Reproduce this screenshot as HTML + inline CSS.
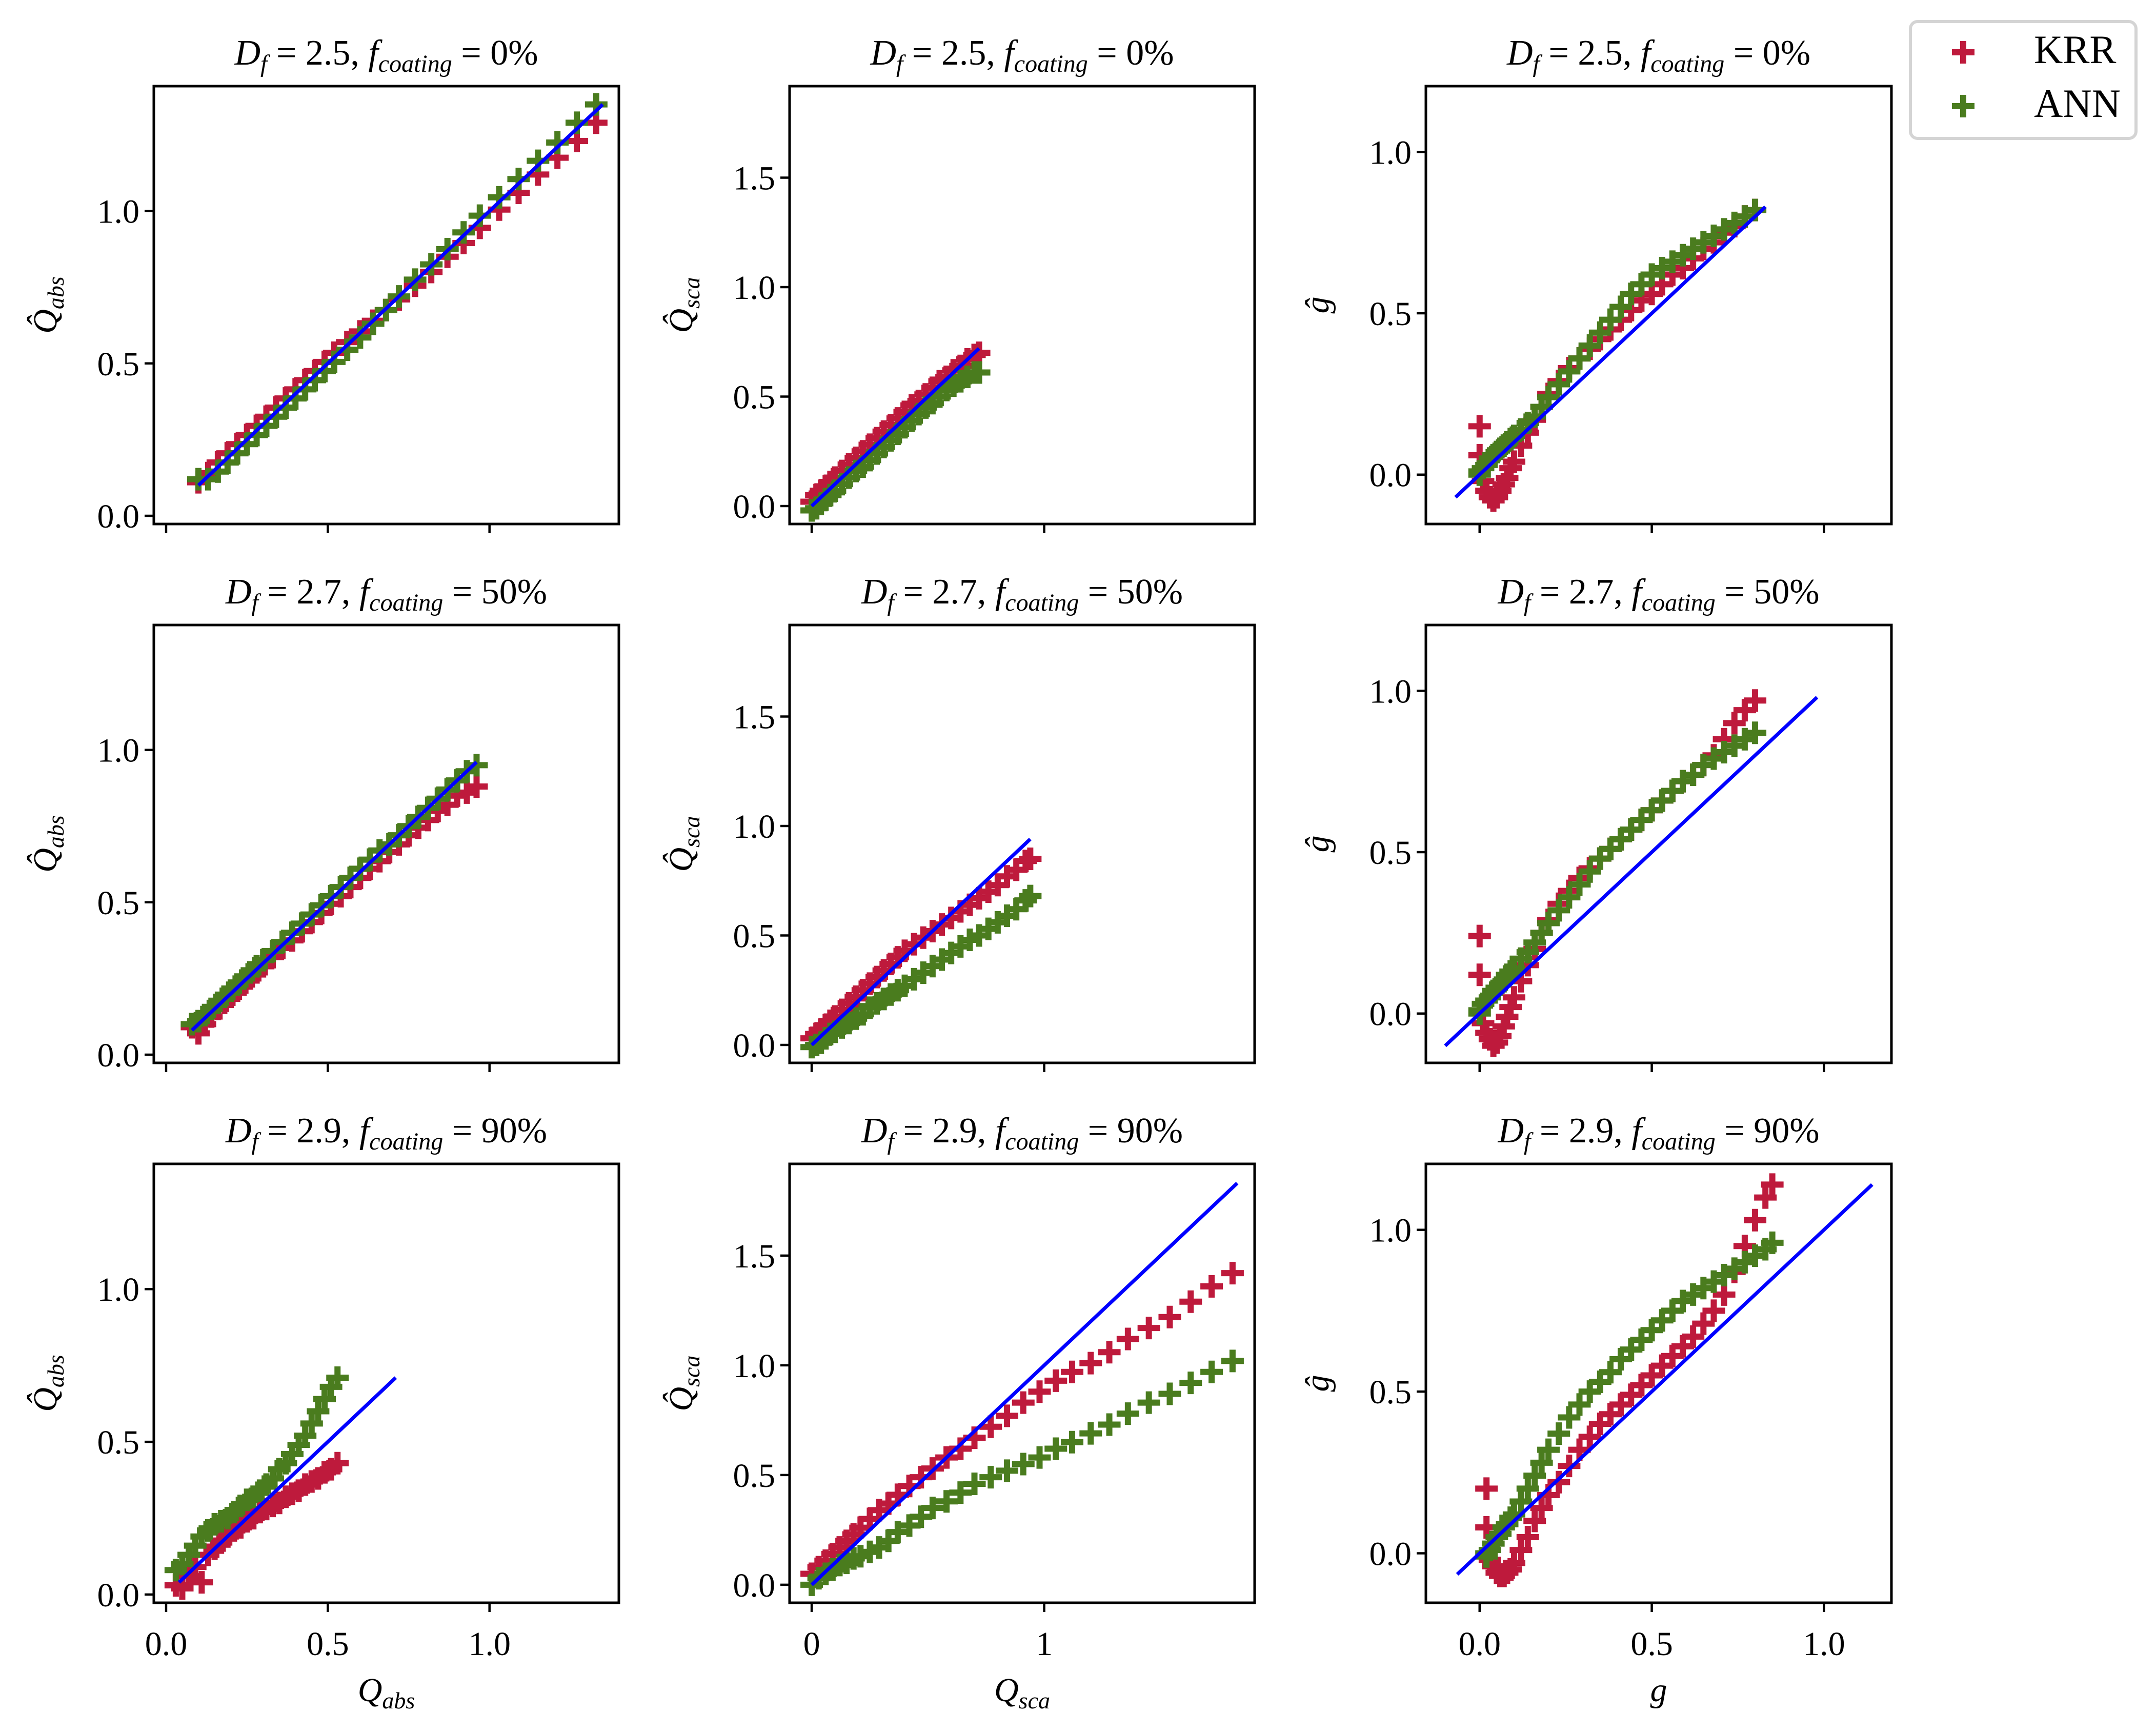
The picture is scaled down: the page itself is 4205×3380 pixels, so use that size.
<!DOCTYPE html>
<html><head><meta charset="utf-8"><style>
html,body{margin:0;padding:0;background:#fff;}
svg{display:block;font-family:"Liberation Serif",serif;}
</style></head><body>
<svg id="fig" width="4205" height="3380" viewBox="0 0 4205 3380" xmlns="http://www.w3.org/2000/svg"></svg>
<script>
// ---- data ----
const rowDf = [2.5, 2.7, 2.9];
const rowCoat = [0, 50, 90];
// column 1 : Q_abs
const x11 = [0.10,0.13,0.16,0.19,0.22,0.25,0.28,0.31,0.34,0.37,0.40,0.43,0.46,0.49,0.52,0.56,0.60,0.64,0.68,0.72,0.77,0.82,0.87,0.92,0.97,1.03,1.09,1.15,1.21,1.27,1.33];
const krr11 = [0.11,0.14,0.175,0.205,0.235,0.265,0.295,0.325,0.355,0.385,0.415,0.445,0.475,0.505,0.535,0.57,0.605,0.64,0.675,0.71,0.755,0.80,0.85,0.895,0.945,1.005,1.06,1.12,1.175,1.23,1.29];
const ann11 = [0.12,0.12,0.145,0.175,0.205,0.235,0.265,0.295,0.325,0.355,0.385,0.415,0.445,0.475,0.505,0.545,0.585,0.63,0.675,0.72,0.775,0.825,0.875,0.93,0.985,1.045,1.105,1.165,1.225,1.29,1.35];
const x21 = [0.08,0.10,0.12,0.14,0.16,0.18,0.20,0.22,0.24,0.26,0.28,0.30,0.33,0.36,0.39,0.42,0.45,0.48,0.51,0.54,0.57,0.60,0.63,0.66,0.69,0.72,0.75,0.78,0.81,0.84,0.87,0.90,0.93,0.96];
const krr21 = [0.09,0.07,0.10,0.125,0.15,0.17,0.19,0.21,0.23,0.25,0.27,0.29,0.32,0.35,0.375,0.405,0.435,0.465,0.495,0.52,0.55,0.58,0.61,0.635,0.665,0.69,0.72,0.745,0.77,0.80,0.82,0.85,0.86,0.88];
const ann21 = [0.10,0.11,0.13,0.15,0.17,0.19,0.21,0.23,0.25,0.27,0.29,0.31,0.34,0.37,0.40,0.43,0.46,0.49,0.52,0.55,0.58,0.61,0.64,0.67,0.69,0.72,0.75,0.78,0.81,0.84,0.87,0.90,0.93,0.95];
const x31 = [0.03,0.05,0.07,0.09,0.11,0.13,0.15,0.17,0.19,0.21,0.23,0.25,0.27,0.29,0.31,0.33,0.35,0.37,0.39,0.41,0.43,0.45,0.47,0.49,0.51,0.53];
const krr31 = [0.03,0.02,0.06,0.09,0.04,0.13,0.15,0.17,0.19,0.21,0.22,0.24,0.25,0.27,0.28,0.29,0.30,0.32,0.33,0.34,0.36,0.37,0.38,0.40,0.41,0.43];
const ann31 = [0.08,0.10,0.13,0.16,0.19,0.21,0.23,0.24,0.25,0.27,0.29,0.31,0.32,0.34,0.36,0.38,0.41,0.43,0.46,0.49,0.52,0.56,0.60,0.64,0.68,0.71];
// column 2 : Q_sca
const x12 = [0,0.02,0.04,0.06,0.08,0.10,0.13,0.16,0.19,0.22,0.25,0.28,0.31,0.34,0.37,0.40,0.43,0.46,0.49,0.52,0.55,0.58,0.61,0.64,0.67,0.70,0.72];
const krr12 = [0.02,0.05,0.07,0.09,0.11,0.13,0.16,0.19,0.22,0.25,0.28,0.31,0.34,0.37,0.40,0.43,0.46,0.48,0.51,0.54,0.57,0.59,0.62,0.64,0.67,0.69,0.70];
const ann12 = [-0.02,-0.01,0.01,0.03,0.05,0.07,0.10,0.13,0.16,0.18,0.21,0.24,0.27,0.30,0.33,0.36,0.39,0.42,0.45,0.47,0.50,0.53,0.55,0.57,0.59,0.61,0.61];
const x22 = [0,0.02,0.04,0.06,0.08,0.10,0.13,0.16,0.19,0.22,0.25,0.28,0.31,0.34,0.37,0.40,0.44,0.48,0.52,0.56,0.60,0.64,0.68,0.72,0.76,0.80,0.84,0.88,0.92,0.94];
const krr22 = [0.03,0.05,0.07,0.09,0.11,0.13,0.16,0.19,0.22,0.25,0.28,0.31,0.34,0.37,0.40,0.43,0.46,0.49,0.52,0.55,0.58,0.61,0.64,0.67,0.70,0.73,0.77,0.80,0.84,0.85];
const ann22 = [-0.01,0.0,0.01,0.03,0.05,0.06,0.08,0.10,0.12,0.14,0.17,0.19,0.21,0.23,0.25,0.27,0.30,0.33,0.36,0.39,0.42,0.45,0.48,0.50,0.53,0.56,0.59,0.62,0.66,0.68];
const x32 = [0,0.03,0.06,0.09,0.12,0.15,0.18,0.21,0.25,0.29,0.33,0.37,0.42,0.47,0.52,0.58,0.64,0.70,0.77,0.84,0.91,0.98,1.05,1.12,1.20,1.28,1.36,1.45,1.54,1.63,1.72,1.81];
const krr32 = [0.05,0.08,0.11,0.14,0.17,0.20,0.23,0.26,0.30,0.34,0.37,0.41,0.45,0.49,0.53,0.58,0.62,0.67,0.72,0.77,0.83,0.88,0.93,0.97,1.01,1.06,1.12,1.17,1.22,1.29,1.36,1.42];
const ann32 = [0.0,0.03,0.05,0.07,0.09,0.10,0.12,0.13,0.15,0.17,0.20,0.24,0.27,0.31,0.35,0.38,0.42,0.46,0.49,0.52,0.55,0.58,0.62,0.65,0.69,0.73,0.78,0.83,0.87,0.92,0.97,1.02];
// column 3 : g
const x13 = [0.0,0.0,0.01,0.02,0.03,0.04,0.05,0.06,0.07,0.08,0.09,0.10,0.12,0.14,0.16,0.18,0.20,0.23,0.26,0.29,0.32,0.35,0.38,0.41,0.44,0.47,0.50,0.53,0.56,0.59,0.62,0.65,0.68,0.71,0.74,0.77,0.80];
const krr13 = [0.15,0.06,-0.02,-0.05,-0.07,-0.08,-0.07,-0.05,-0.03,-0.01,0.02,0.04,0.09,0.13,0.17,0.21,0.25,0.29,0.33,0.36,0.39,0.42,0.45,0.48,0.51,0.54,0.56,0.59,0.62,0.64,0.67,0.70,0.72,0.75,0.77,0.80,0.82];
const ann13 = [0.0,0.01,0.02,0.03,0.05,0.06,0.07,0.08,0.09,0.10,0.11,0.12,0.14,0.16,0.18,0.21,0.24,0.28,0.32,0.36,0.40,0.44,0.48,0.52,0.56,0.59,0.62,0.64,0.66,0.68,0.70,0.72,0.74,0.76,0.78,0.80,0.82];
const x23 = [0.0,0.0,0.01,0.02,0.03,0.04,0.05,0.06,0.07,0.08,0.09,0.10,0.12,0.14,0.16,0.18,0.20,0.23,0.26,0.29,0.32,0.35,0.38,0.41,0.44,0.47,0.50,0.53,0.56,0.59,0.62,0.65,0.68,0.71,0.74,0.77,0.80];
const krr23 = [0.24,0.12,-0.03,-0.06,-0.08,-0.10,-0.09,-0.07,-0.04,-0.01,0.02,0.05,0.10,0.15,0.20,0.25,0.29,0.34,0.38,0.42,0.45,0.48,0.51,0.54,0.57,0.60,0.63,0.66,0.69,0.72,0.74,0.77,0.80,0.85,0.90,0.94,0.97];
const ann23 = [0.0,0.01,0.03,0.04,0.05,0.07,0.08,0.09,0.10,0.12,0.13,0.14,0.17,0.19,0.22,0.25,0.28,0.32,0.36,0.40,0.44,0.48,0.51,0.54,0.57,0.60,0.63,0.66,0.69,0.72,0.74,0.77,0.79,0.81,0.83,0.85,0.87];
const x33 = [0.02,0.02,0.03,0.04,0.05,0.06,0.07,0.08,0.09,0.10,0.12,0.14,0.16,0.18,0.20,0.23,0.26,0.29,0.32,0.35,0.38,0.41,0.44,0.47,0.50,0.53,0.56,0.59,0.62,0.65,0.68,0.71,0.74,0.77,0.80,0.83,0.85];
const krr33 = [0.20,0.08,-0.02,-0.04,-0.06,-0.07,-0.07,-0.06,-0.05,-0.03,0.01,0.05,0.10,0.14,0.18,0.22,0.27,0.32,0.36,0.40,0.43,0.46,0.49,0.52,0.55,0.58,0.61,0.64,0.67,0.71,0.75,0.80,0.87,0.95,1.03,1.10,1.14];
const ann33 = [0.0,-0.01,0.01,0.03,0.05,0.06,0.08,0.09,0.11,0.12,0.16,0.20,0.24,0.28,0.32,0.37,0.42,0.46,0.50,0.53,0.56,0.60,0.63,0.66,0.69,0.72,0.75,0.78,0.80,0.82,0.84,0.86,0.88,0.90,0.92,0.94,0.96];
// y=x reference line ranges [row][col]
const lineLo = [[0.10,0.0,-0.07],[0.08,0.0,-0.10],[0.04,0.0,-0.065]];
const lineHi = [[1.35,0.72,0.83],[0.96,0.94,0.98],[0.71,1.83,1.14]];
// axis ticks per column
const xTicks = [[0.0,0.5,1.0],[0,1],[0.0,0.5,1.0]];
const xTickLabels = [["0.0","0.5","1.0"],["0","1"],["0.0","0.5","1.0"]];
const yTicks = [[0.0,0.5,1.0],[0.0,0.5,1.0,1.5],[0.0,0.5,1.0]];
const yTickLabels = [["0.0","0.5","1.0"],["0.0","0.5","1.0","1.5"],["0.0","0.5","1.0"]];

// ---- layout ----
const NS = "http://www.w3.org/2000/svg";
const svg = document.getElementById('fig');
const colL = [300,1540,2781], colR = [1207,2447,3689];
const rowT = [168,1219,2270], rowB = [1022,2073,3126];
const xLim = [[-0.038,1.40],[-0.095,1.905],[-0.156,1.196]];
const yLim = [[-0.027,1.41],[-0.082,1.918],[-0.153,1.204]];
const KRR = "#be1a3c", ANN = "#4a7c1e";
const xs = [[x11,x12,x13],[x21,x22,x23],[x31,x32,x33]];
const ks = [[krr11,krr12,krr13],[krr21,krr22,krr23],[krr31,krr32,krr33]];
const as = [[ann11,ann12,ann13],[ann21,ann22,ann23],[ann31,ann32,ann33]];

function mk(tag, attrs, parent){const e=document.createElementNS(NS,tag);for(const k in attrs)e.setAttribute(k,attrs[k]);(parent||svg).appendChild(e);return e;}
function plusPath(cx,cy){const h=22;return `M${cx-h},${cy}H${cx+h}M${cx},${cy-h}V${cy+h}`;}

for(let r=0;r<3;r++){for(let c=0;c<3;c++){
  const L=colL[c],R=colR[c],T=rowT[r],B=rowB[r];
  const sx=v=>L+(v-xLim[c][0])/(xLim[c][1]-xLim[c][0])*(R-L);
  const sy=v=>B-(v-yLim[c][0])/(yLim[c][1]-yLim[c][0])*(B-T);
  const g=mk('g',{});
  
  
  const clipId='clip'+r+c;
  const cp=mk('clipPath',{id:clipId},g);mk('rect',{x:L,y:T,width:R-L,height:B-T},cp);
  const pg=mk('g',{'clip-path':`url(#${clipId})`},g);
  [[ks[r][c],KRR,'krr'],[as[r][c],ANN,'ann']].forEach(([ys,col,nm])=>{
    let d='';const X=xs[r][c];
    for(let i=0;i<X.length;i++)d+=plusPath(sx(X[i]),sy(ys[i]));
    const p=mk('path',{d:d,stroke:col,'stroke-width':12,fill:'none'},pg);
    
    
  });
  const ln=mk('line',{x1:sx(lineLo[r][c]),y1:sy(lineLo[r][c]),x2:sx(lineHi[r][c]),y2:sy(lineHi[r][c]),stroke:'#0000ff','stroke-width':7},pg);
  
  
  const fr=mk('rect',{x:L,y:T,width:R-L,height:B-T,fill:'none',stroke:'#000','stroke-width':5},g);
  
  
  xTicks[c].forEach((v,i)=>{
    mk('line',{x1:sx(v),y1:B,x2:sx(v),y2:B+18,stroke:'#000','stroke-width':4.5},g);
    if(r===2){const t=mk('text',{x:sx(v),y:B+102,'font-size':66,'text-anchor':'middle'},g);t.textContent=xTickLabels[c][i];
      
      }
  });
  yTicks[c].forEach((v,i)=>{
    mk('line',{x1:L-18,y1:sy(v),x2:L,y2:sy(v),stroke:'#000','stroke-width':4.5},g);
    const t=mk('text',{x:L-28,y:sy(v)+23,'font-size':66,'text-anchor':'end'},g);t.textContent=yTickLabels[c][i];
    
    
  });
  const tt=mk('text',{x:(L+R)/2,y:T-42,'font-size':70,'text-anchor':'middle'},g);
  tt.innerHTML=`<tspan font-style="italic">D</tspan><tspan font-style="italic" font-size="48" dy="14">f</tspan><tspan dy="-14"> = ${rowDf[r]}, </tspan><tspan font-style="italic">f</tspan><tspan font-style="italic" font-size="48" dy="14">coating</tspan><tspan dy="-14"> = ${rowCoat[r]}%</tspan>`;
  
  
  const yl=['Q̂','Q̂','ĝ'][c], ys2=['abs','sca',''][c];
  const yt=mk('text',{x:0,y:0,'font-size':66,'text-anchor':'middle','font-style':'italic',transform:`translate(${L-190},${(T+B)/2}) rotate(-90)`},g);
  yt.innerHTML=`${yl}<tspan font-size="46" dy="14">${ys2}</tspan>`;
  
  
  if(r===2){
    const xl=['Q','Q','g'][c], xs2=['abs','sca',''][c];
    const xt=mk('text',{x:(L+R)/2,y:3318,'font-size':66,'text-anchor':'middle','font-style':'italic'},g);
    xt.innerHTML=`${xl}<tspan font-size="46" dy="14">${xs2}</tspan>`;
    
    
  }
}}
const lg=mk('g',{});


mk('rect',{x:3726,y:42,width:440,height:228,rx:14,fill:'#fff',stroke:'#d4d4d4','stroke-width':6},lg);
[[KRR,'KRR',102],[ANN,'ANN',207]].forEach(([col,lab,cy])=>{
  const e=mk('g',{},lg);
  
  
  mk('path',{d:plusPath(3829,cy),stroke:col,'stroke-width':12,fill:'none'},e);
  const t=mk('text',{x:3967,y:cy+21,'font-size':78},e);t.textContent=lab;
});
</script>
</body></html>
